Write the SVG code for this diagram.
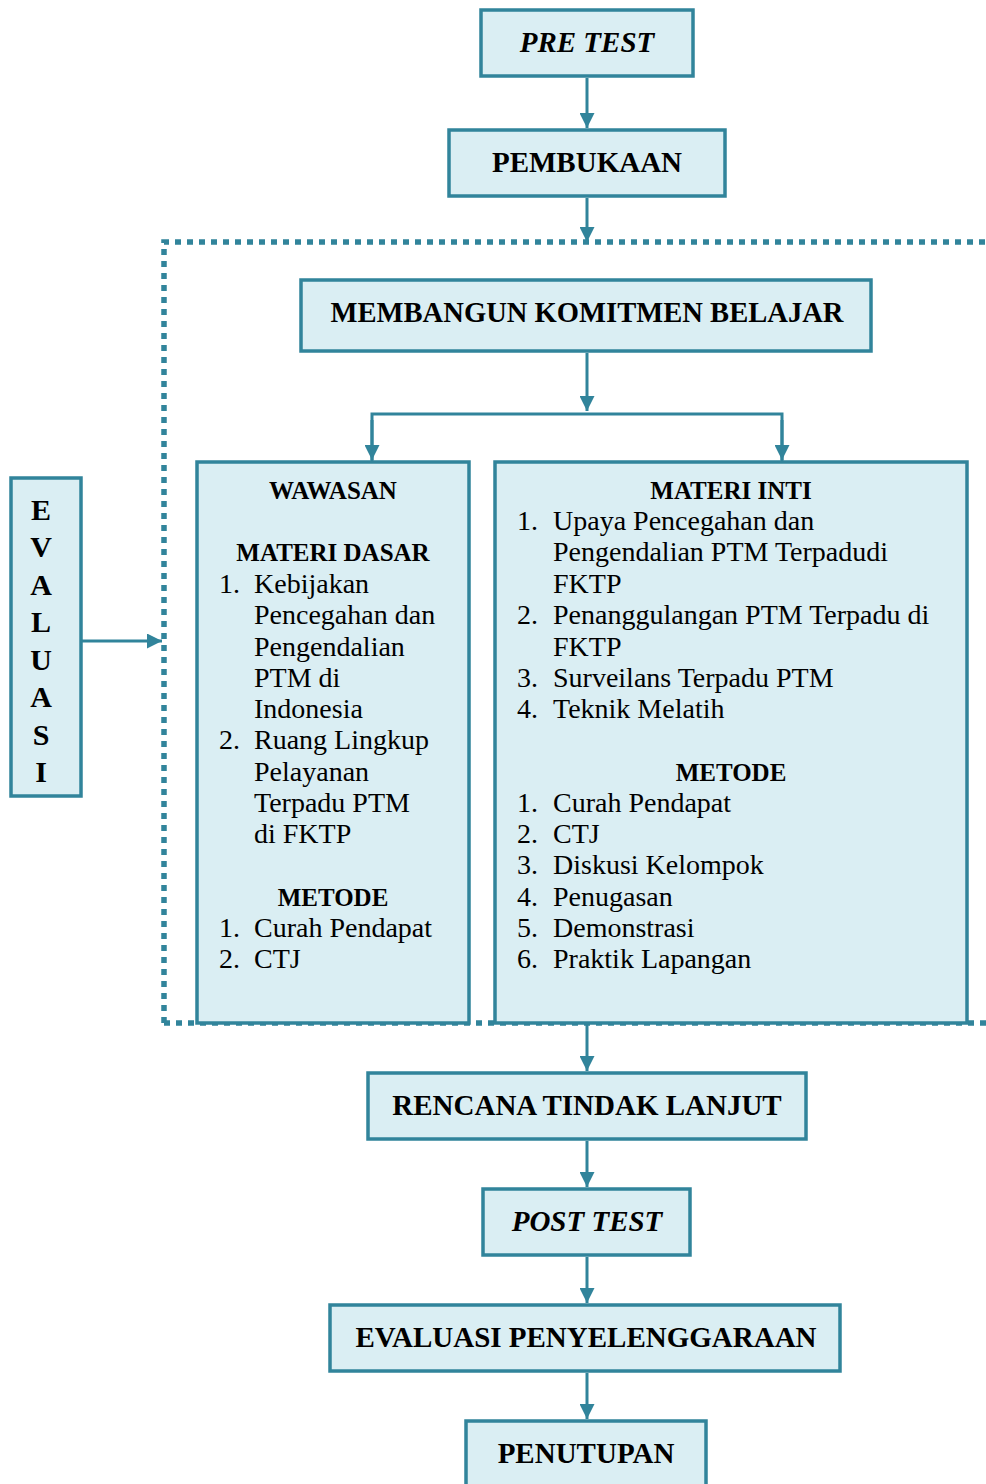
<svg xmlns="http://www.w3.org/2000/svg" width="986" height="1484" viewBox="0 0 986 1484">
<defs>
<marker id="ah" markerWidth="5" markerHeight="5" refX="5" refY="2.5" orient="auto" markerUnits="strokeWidth">
<path d="M0,0 L5,2.5 L0,5 Z" fill="#31849B"/>
</marker>
<style>
.box{fill:#DAEEF3;stroke:#31849B;stroke-width:3.5}
.t{font-family:"Liberation Serif",serif;font-weight:bold;font-size:29px;fill:#000;text-anchor:middle}
.ti{font-style:italic}
.h{font-family:"Liberation Serif",serif;font-weight:bold;font-size:25px;fill:#000;text-anchor:middle}
.b{font-family:"Liberation Serif",serif;font-size:28px;fill:#000}
.c{fill:none;stroke:#31849B;stroke-width:3}
.dot{fill:none;stroke:#31849B;stroke-width:5.5;stroke-dasharray:6 6}
.ev{font-family:"Liberation Serif",serif;font-weight:bold;font-size:30px;fill:#000;text-anchor:middle}
</style>
</defs>
<rect width="986" height="1484" fill="#fff"/>

<g id="group-frame">
<path class="dot" d="M164,1023 L164,242 L990,242"/>
<path class="dot" d="M164,1023 L990,1023"/>
</g>

<g id="node-pretest">
<rect class="box" x="481" y="10" width="212" height="66"/>
<text class="t ti" x="587" y="52">PRE TEST</text>
</g>
<g id="node-pembukaan">
<rect class="box" x="449" y="130" width="276" height="66"/>
<text class="t" x="587" y="172">PEMBUKAAN</text>
</g>
<g id="node-komitmen">
<rect class="box" x="301" y="280" width="570" height="71"/>
<text class="t" x="587" y="322" textLength="513" lengthAdjust="spacingAndGlyphs">MEMBANGUN KOMITMEN BELAJAR</text>
</g>

<g id="node-wawasan">
<rect class="box" x="197" y="462" width="272" height="561"/>
<text class="h" x="333" y="499">WAWASAN</text>
<text class="h" x="333" y="561">MATERI DASAR</text>
<g class="b">
<text x="219" y="593">1.</text><text x="254" y="593">Kebijakan</text>
<text x="254" y="624">Pencegahan dan</text>
<text x="254" y="656">Pengendalian</text>
<text x="254" y="687">PTM di</text>
<text x="254" y="718">Indonesia</text>
<text x="219" y="749">2.</text><text x="254" y="749">Ruang Lingkup</text>
<text x="254" y="781">Pelayanan</text>
<text x="254" y="812">Terpadu PTM</text>
<text x="254" y="843">di FKTP</text>
</g>
<text class="h" x="333" y="906">METODE</text>
<g class="b">
<text x="219" y="937">1.</text><text x="254" y="937">Curah Pendapat</text>
<text x="219" y="968">2.</text><text x="254" y="968">CTJ</text>
</g>
</g>

<g id="node-materi-inti">
<rect class="box" x="495" y="462" width="472" height="561"/>
<text class="h" x="731" y="499">MATERI INTI</text>
<g class="b">
<text x="517" y="530">1.</text><text x="553" y="530">Upaya Pencegahan dan</text>
<text x="553" y="561">Pengendalian PTM Terpadudi</text>
<text x="553" y="593">FKTP</text>
<text x="517" y="624">2.</text><text x="553" y="624">Penanggulangan PTM Terpadu di</text>
<text x="553" y="656">FKTP</text>
<text x="517" y="687">3.</text><text x="553" y="687">Surveilans Terpadu PTM</text>
<text x="517" y="718">4.</text><text x="553" y="718">Teknik Melatih</text>
</g>
<text class="h" x="731" y="781">METODE</text>
<g class="b">
<text x="517" y="812">1.</text><text x="553" y="812">Curah Pendapat</text>
<text x="517" y="843">2.</text><text x="553" y="843">CTJ</text>
<text x="517" y="874">3.</text><text x="553" y="874">Diskusi Kelompok</text>
<text x="517" y="906">4.</text><text x="553" y="906">Penugasan</text>
<text x="517" y="937">5.</text><text x="553" y="937">Demonstrasi</text>
<text x="517" y="968">6.</text><text x="553" y="968">Praktik Lapangan</text>
</g>
</g>

<g id="node-evaluasi">
<rect class="box" x="11" y="478" width="70" height="318"/>
<text class="ev" x="41" y="520">E</text>
<text class="ev" x="41" y="557">V</text>
<text class="ev" x="41" y="595">A</text>
<text class="ev" x="41" y="632">L</text>
<text class="ev" x="41" y="670">U</text>
<text class="ev" x="41" y="707">A</text>
<text class="ev" x="41" y="745">S</text>
<text class="ev" x="41" y="782">I</text>
</g>

<g id="node-rtl">
<rect class="box" x="368" y="1073" width="438" height="66"/>
<text class="t" x="587" y="1115">RENCANA TINDAK LANJUT</text>
</g>
<g id="node-posttest">
<rect class="box" x="483" y="1189" width="207" height="66"/>
<text class="t ti" x="587" y="1231">POST TEST</text>
</g>
<g id="node-evalpeny">
<rect class="box" x="330" y="1305" width="510" height="66"/>
<text class="t" x="586" y="1347">EVALUASI PENYELENGGARAAN</text>
</g>
<g id="node-penutupan">
<rect class="box" x="466" y="1421" width="240" height="70"/>
<text class="t" x="586" y="1463">PENUTUPAN</text>
</g>

<g id="connectors">
<line class="c" x1="587" y1="78" x2="587" y2="128" marker-end="url(#ah)"/>
<line class="c" x1="587" y1="198" x2="587" y2="242" marker-end="url(#ah)"/>
<line class="c" x1="587" y1="353" x2="587" y2="411" marker-end="url(#ah)"/>
<polyline class="c" points="372,461 372,414 782,414 782,461" fill="none"/>
<line class="c" x1="372" y1="420" x2="372" y2="460" marker-end="url(#ah)"/>
<line class="c" x1="782" y1="420" x2="782" y2="460" marker-end="url(#ah)"/>
<line class="c" x1="82" y1="641" x2="162" y2="641" marker-end="url(#ah)"/>
<line class="c" x1="587" y1="1025" x2="587" y2="1071" marker-end="url(#ah)"/>
<line class="c" x1="587" y1="1141" x2="587" y2="1187" marker-end="url(#ah)"/>
<line class="c" x1="587" y1="1257" x2="587" y2="1303" marker-end="url(#ah)"/>
<line class="c" x1="587" y1="1373" x2="587" y2="1419" marker-end="url(#ah)"/>
</g>
</svg>
